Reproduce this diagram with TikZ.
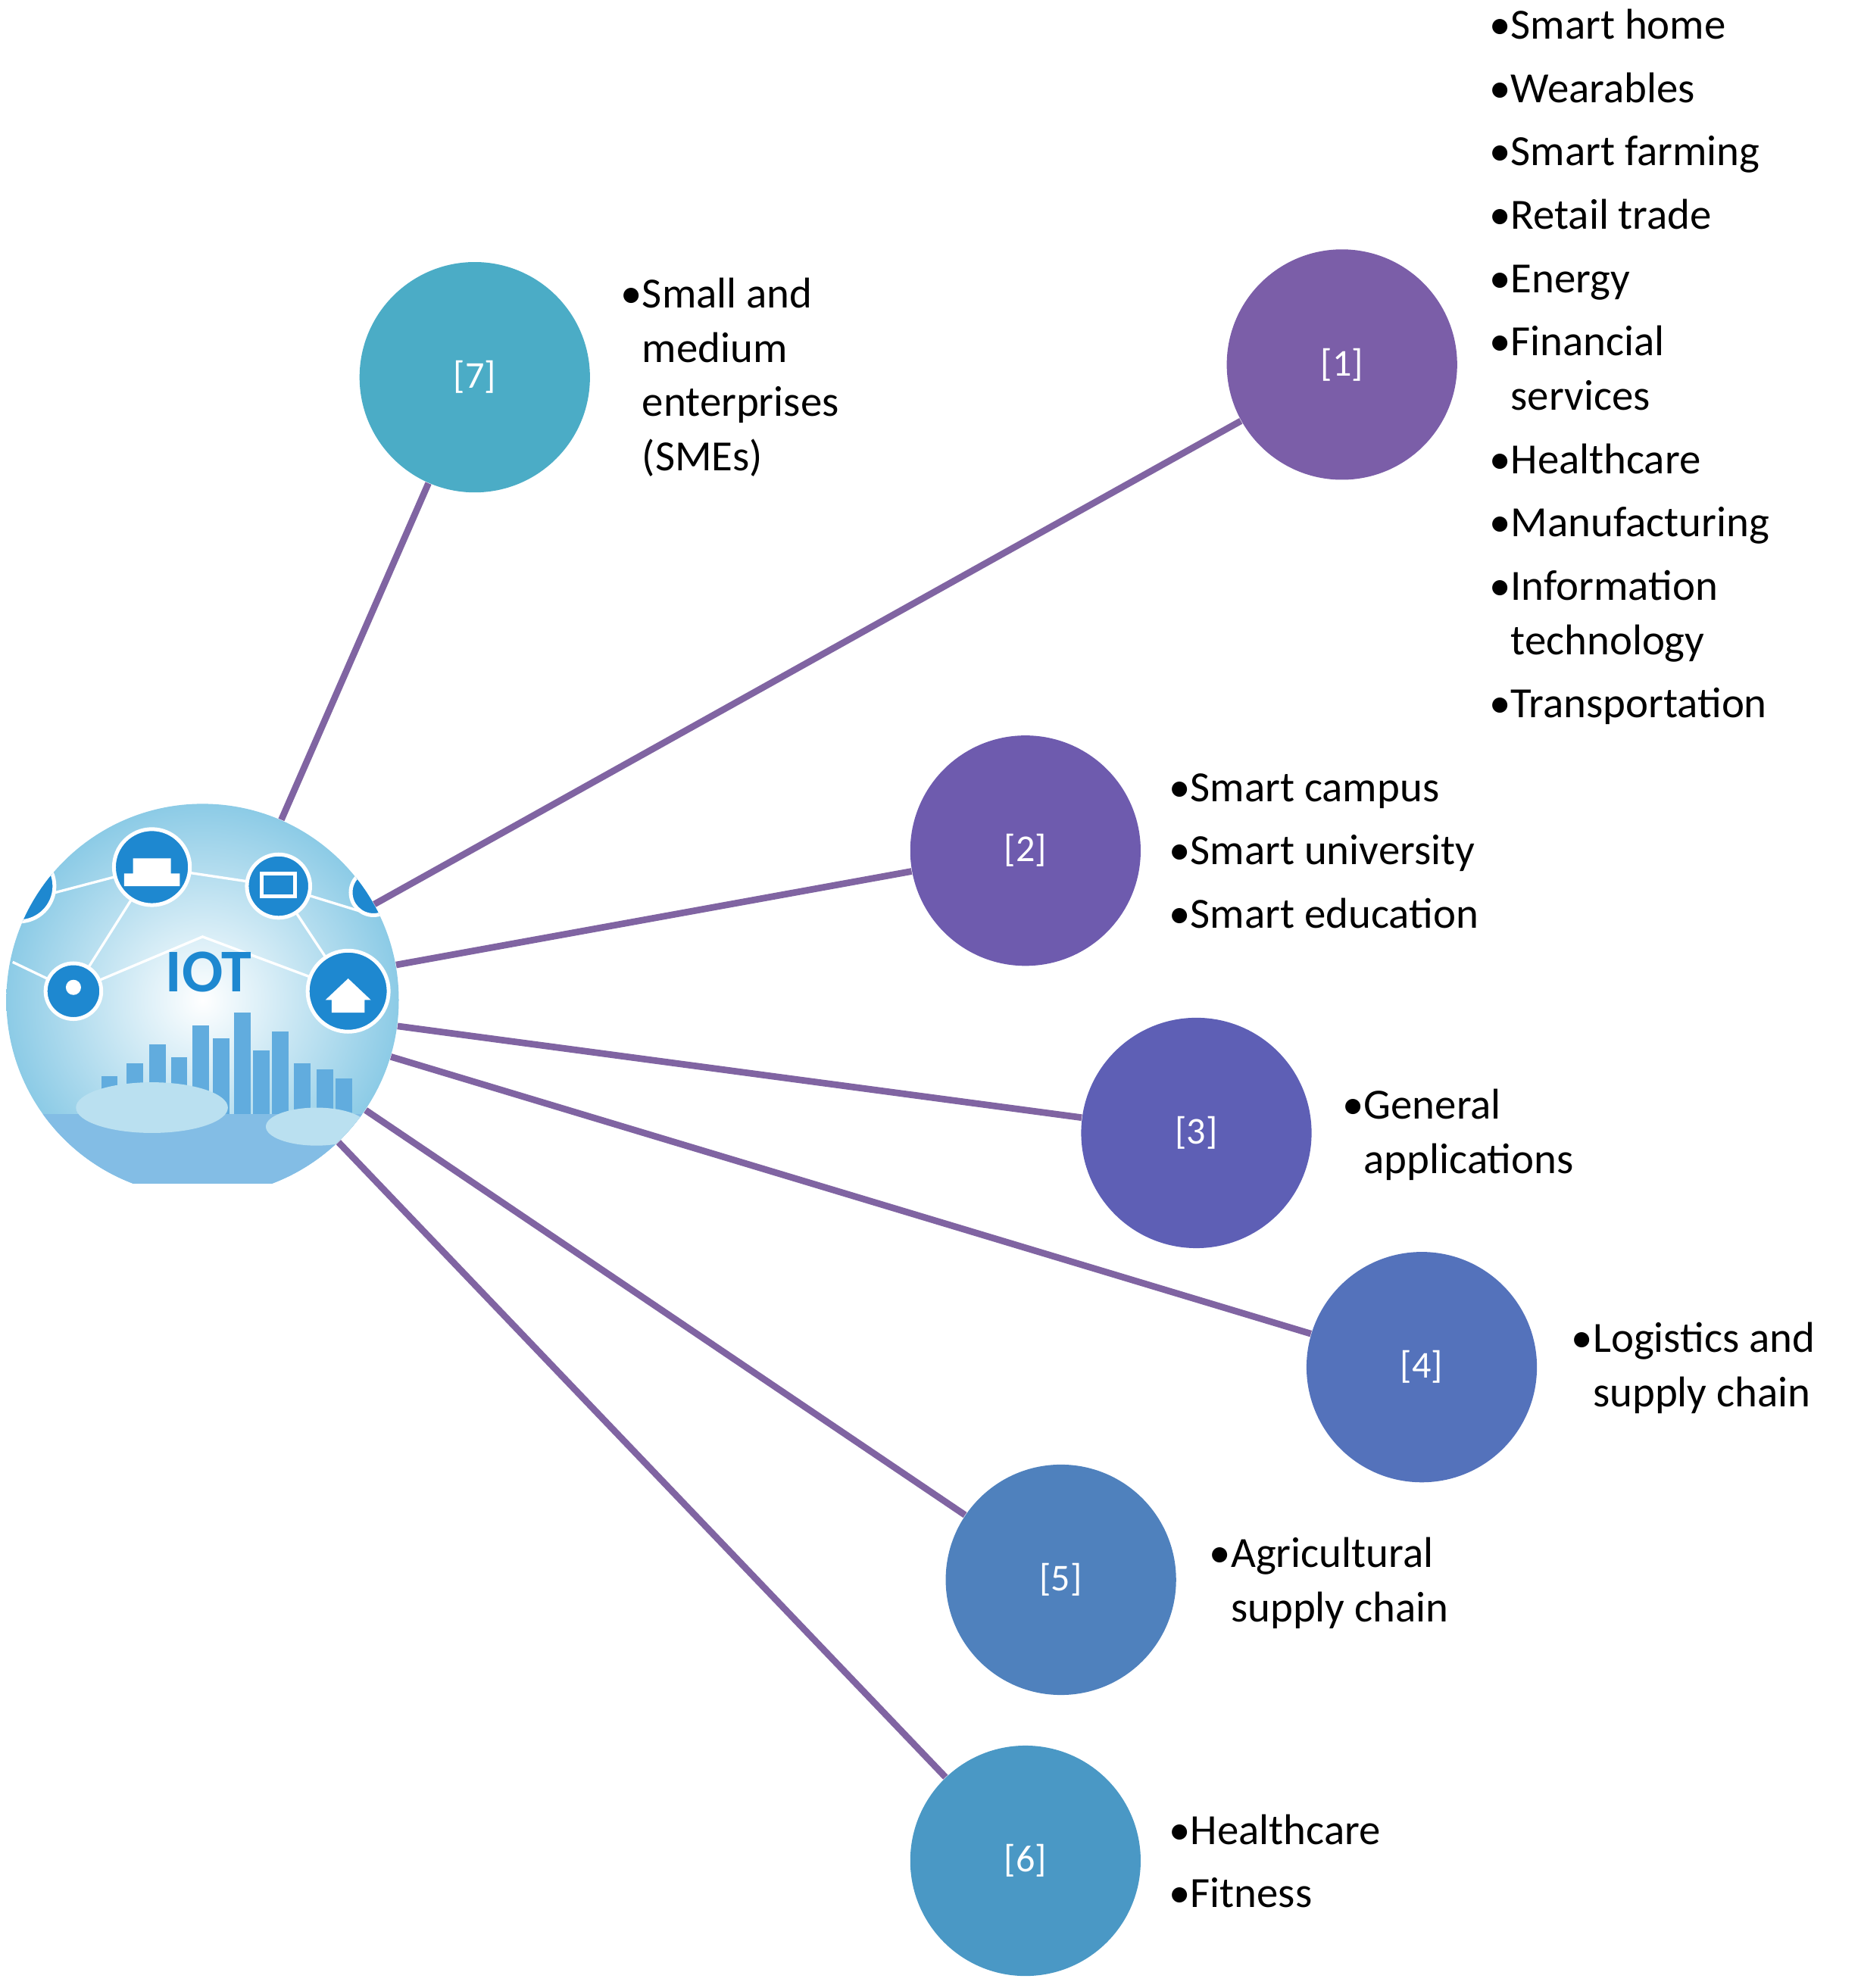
\documentclass[tikz,border=0pt]{standalone}
\usepackage{fontspec}
\setmainfont{Carlito}
\begin{document}
\begin{tikzpicture}[x=0.5pt,y=-0.5pt,
  cat/.style={circle,minimum size=91pt,inner sep=0pt,text=white,font=\fontsize{15}{18}\selectfont},
  conn/.style={draw=lineP,line width=2.6pt},
  lst/.style={anchor=base west,inner sep=0pt,font=\fontsize{17}{21.5}\selectfont},
  icon/.style={fill=iconB,draw=white,line width=1.5pt}]
\definecolor{lineP}{HTML}{8064A2}
\definecolor{c7}{HTML}{4BACC6}
\definecolor{c1}{HTML}{7B5EA8}
\definecolor{c2}{HTML}{6E5BAE}
\definecolor{c3}{HTML}{5E5FB5}
\definecolor{c4}{HTML}{5472BB}
\definecolor{c5}{HTML}{4F81BD}
\definecolor{c6}{HTML}{4A98C5}
\definecolor{iconB}{HTML}{1E88D0}
\definecolor{globeB}{HTML}{8CCBE6}
\useasboundingbox (0,0) rectangle (1470,1570.5);
% globe
\node[circle,minimum size=155pt,inner sep=0pt] (globe) at (160,790) {};
\begin{scope}
\clip (160,790) circle (155) ;
\clip (0,600) rectangle (330,935);
\shade[inner color=white,outer color=globeB] (160,790) circle (155);
\draw[white,line width=1pt] (25,710)--(120,685)--(220,700)--(285,720) (58,783)--(120,685) (220,700)--(275,783) (58,783)--(160,740)--(275,783) (10,760)--(58,783);
\fill[icon] (120,685) circle (30);
\fill[white] (98,690) rectangle (142,700) (105,678) rectangle (135,690);
\fill[icon] (220,700) circle (25);
\draw[white,line width=1.5pt] (207,690) rectangle (233,708);
\fill[icon] (58,783) circle (22);
\fill[white] (58,780) circle (6);
\fill[icon] (275,783) circle (32);
\fill[white] (262,790) rectangle (288,800) (257,790)--(275,773)--(293,790)--cycle;
\fill[icon] (15,700) circle (28);
\fill[icon] (295,705) circle (18);
\node[text=iconB,font=\fontsize{24}{24}\selectfont\bfseries] at (165,768) {IOT};
\foreach \x/\h in {80/30,100/40,118/55,135/45,152/70,168/60,185/80,200/50,215/65,232/40,250/35,265/28}
  \fill[iconB!70] (\x,880) rectangle (\x+13,880-\h);
\fill[iconB!55] (0,880) rectangle (330,935);
\fill[globeB!60!white] (120,875) ellipse (60 and 20);
\fill[globeB!60!white] (250,890) ellipse (40 and 15);
\end{scope}
% category circles
\node[cat,fill=c7] (n7) at (375,298) {[7]};
\node[cat,fill=c1] (n1) at (1060,288) {[1]};
\node[cat,fill=c2] (n2) at (810,672) {[2]};
\node[cat,fill=c3] (n3) at (945,895) {[3]};
\node[cat,fill=c4] (n4) at (1123,1080) {[4]};
\node[cat,fill=c5] (n5) at (838,1248) {[5]};
\node[cat,fill=c6] (n6) at (810,1470) {[6]};
\foreach \n in {n7,n1,n2,n3,n4,n5,n6} \draw[conn] (globe) -- (\n);
% lists
\node[lst] (l1) at (1176,31) {\begin{tabular}[t]{@{}l@{}l@{}}
\textbullet&Smart home\\[3.5pt]
\textbullet&Wearables\\[3.5pt]
\textbullet&Smart farming\\[3.5pt]
\textbullet&Retail trade\\[3.5pt]
\textbullet&Energy\\[3.5pt]
\textbullet&Financial\\
&services\\[3.5pt]
\textbullet&Healthcare\\[3.5pt]
\textbullet&Manufacturing\\[3.5pt]
\textbullet&Information\\
&technology\\[3.5pt]
\textbullet&Transportation
\end{tabular}};
\node[lst] (l7) at (490,243) {\begin{tabular}[t]{@{}l@{}l@{}}
\textbullet&Small and\\ &medium\\ &enterprises\\ &(SMEs)\end{tabular}};
\node[lst] (l2) at (923,633) {\begin{tabular}[t]{@{}l@{}l@{}}
\textbullet&Smart campus\\[3.5pt]
\textbullet&Smart university\\[3.5pt]
\textbullet&Smart education\end{tabular}};
\node[lst] (l3) at (1060,884) {\begin{tabular}[t]{@{}l@{}l@{}}
\textbullet&General\\ &applications\end{tabular}};
\node[lst] (l4) at (1241,1068) {\begin{tabular}[t]{@{}l@{}l@{}}
\textbullet&Logistics and\\ &supply chain\end{tabular}};
\node[lst] (l5) at (955,1238) {\begin{tabular}[t]{@{}l@{}l@{}}
\textbullet&Agricultural\\ &supply chain\end{tabular}};
\node[lst] (l6) at (923,1457) {\begin{tabular}[t]{@{}l@{}l@{}}
\textbullet&Healthcare\\[3.5pt]
\textbullet&Fitness\end{tabular}};
\end{tikzpicture}
\end{document}
